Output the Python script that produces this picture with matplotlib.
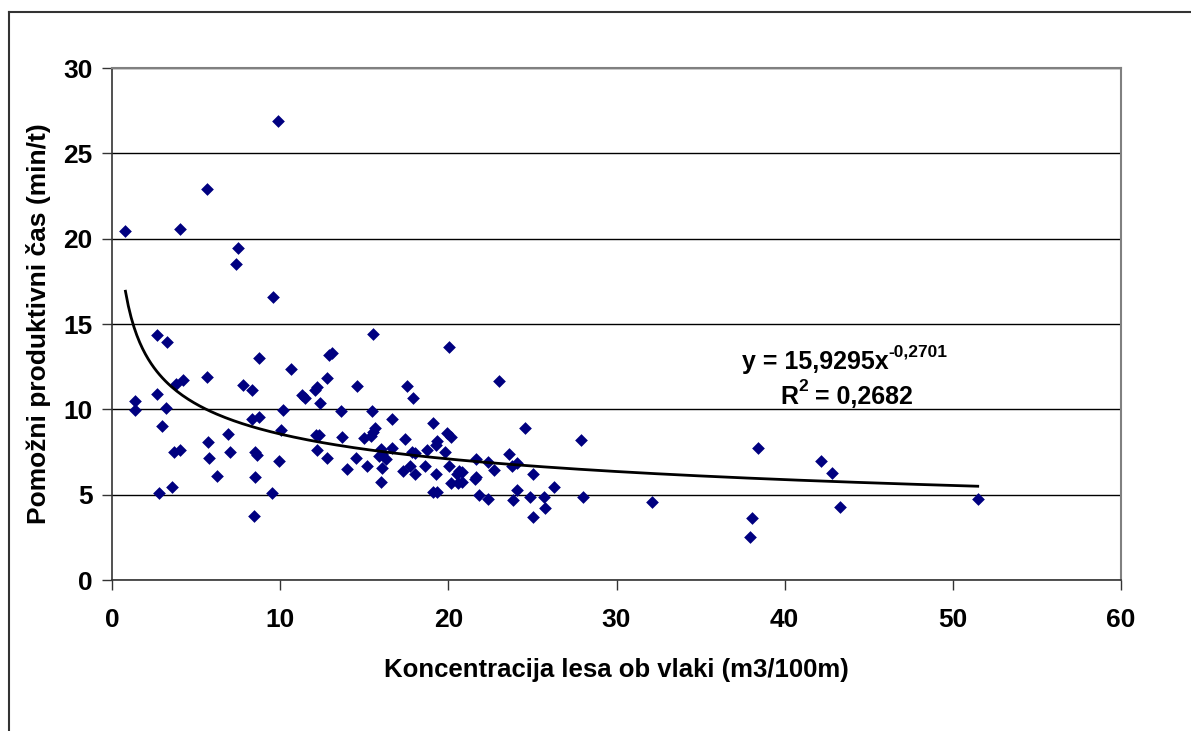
import numpy as np
import matplotlib
matplotlib.use('Agg')
import matplotlib.pyplot as plt
from matplotlib.lines import Line2D

plt.rcParams['font.family'] = ['Liberation Sans', 'DejaVu Sans']
plt.rcParams['font.weight'] = 'bold'

# Data
koncentracija = [
    0.80, 1.35, 1.35, 2.70, 3.27, 2.70, 3.19, 2.97, 2.79, 3.54,
    3.66, 4.06, 3.80, 4.24, 4.02, 5.64, 5.65, 5.71, 5.74, 6.22,
    6.92, 7.01, 7.37, 7.49, 7.77, 8.35, 8.32, 8.76, 8.74, 8.50,
    8.64, 8.52, 8.42, 9.51, 9.57, 9.89, 9.95, 10.06, 10.14, 10.62,
    11.27, 11.47, 12.07, 12.22, 12.34, 12.13, 12.33, 12.20, 12.76, 12.76,
    12.92, 13.11, 13.61, 13.69, 13.98, 14.51, 14.57, 15.00, 15.14, 15.40,
    15.53, 15.64, 15.44, 15.52, 15.87, 16.01, 16.08, 16.29, 16.05, 15.99,
    16.63, 16.67, 17.28, 17.44, 17.52, 17.72, 17.81, 17.99, 17.92, 18.03,
    18.61, 18.76, 19.06, 19.24, 19.34, 19.26, 19.06, 19.34, 19.83, 19.91,
    20.13, 20.04, 20.04, 20.15, 20.59, 20.54, 20.64, 20.79, 20.79, 21.58,
    21.67, 21.62, 21.85, 22.33, 22.71, 22.35, 23.01, 23.58, 23.76, 24.09,
    23.85, 24.06, 24.53, 24.83, 25.03, 25.03, 25.68, 25.72, 26.28, 27.90,
    28.00, 32.12, 38.08, 37.96, 38.44, 42.16, 42.84, 43.32, 51.48,
]
cas = [
    20.46, 10.49, 9.98, 14.35, 13.96, 10.92, 10.10, 9.04, 5.08, 5.43,
    7.50, 7.60, 11.46, 11.70, 20.58, 22.93, 11.87, 8.08, 7.17, 6.11,
    8.55, 7.50, 18.49, 19.43, 11.40, 11.13, 9.43, 9.53, 12.99, 7.52,
    7.32, 6.03, 3.75, 5.08, 16.60, 26.87, 6.95, 8.79, 9.98, 12.34,
    10.86, 10.64, 11.13, 11.29, 10.35, 8.49, 8.49, 7.62, 7.17, 11.85,
    13.18, 13.30, 9.90, 8.39, 6.48, 7.17, 11.39, 8.32, 6.69, 8.44,
    8.65, 8.89, 9.90, 14.43, 7.26, 7.67, 7.38, 7.07, 6.54, 5.72,
    7.75, 9.43, 6.39, 8.28, 11.39, 6.69, 7.52, 7.42, 10.64, 6.21,
    6.69, 7.62, 9.22, 7.91, 8.14, 6.21, 5.14, 5.14, 7.50, 8.63,
    8.39, 6.69, 13.67, 5.70, 5.70, 6.21, 6.38, 6.31, 5.77, 5.92,
    6.06, 7.07, 4.98, 6.91, 6.46, 4.77, 11.68, 7.36, 6.69, 6.87,
    4.69, 5.27, 8.93, 4.88, 6.21, 3.71, 4.88, 4.20, 5.45, 8.18,
    4.88, 4.59, 3.65, 2.50, 7.71, 6.97, 6.29, 4.30, 4.77,
]

# power trendline parameters (from the chart label)
a_coef = 15.9295
b_exp = -0.2701

fig = plt.figure(figsize=(11.91, 7.31), dpi=100)
ax = fig.add_axes([112 / 1191, 1 - 580 / 731, (1121 - 112) / 1191, (580 - 68) / 731])

ax.scatter(koncentracija, cas, marker='D', s=42, color='#000080', zorder=3, linewidths=0)

xt = np.linspace(min(koncentracija), max(koncentracija), 300)
ax.plot(xt, a_coef * xt ** b_exp, color='black', lw=2.0, zorder=4)

ax.set_xlim(0, 60)
ax.set_ylim(0, 30)
ax.set_xticks(range(0, 61, 10))
ax.set_yticks(range(0, 31, 5))
ax.yaxis.grid(True, color='black', lw=1.0)
ax.set_axisbelow(True)

ax.tick_params(axis='both', direction='out', length=7, width=1, labelsize=19, color='#333333')
ax.tick_params(axis='x', pad=13)
ax.tick_params(axis='y', pad=7)
for lbl in ax.get_xticklabels() + ax.get_yticklabels():
    lbl.set_fontweight('bold')

for side in ['top', 'right']:
    ax.spines[side].set_color('#808080')
    ax.spines[side].set_linewidth(1.5)
for side in ['left', 'bottom']:
    ax.spines[side].set_color('#333333')
    ax.spines[side].set_linewidth(1.2)

ax.set_xlabel('Koncentracija lesa ob vlaki (m3/100m)', fontsize=18.5, fontweight='bold', labelpad=19)
ax.set_ylabel('Pomožni produktivni čas (min/t)', fontsize=19, fontweight='bold', labelpad=9)

# trendline equation with separate superscripts
eq = ax.text(37.46, 12.77, 'y = 15,9295x', fontsize=18, fontweight='bold', ha='left', va='center')
ax.annotate('-0,2701', xy=(1, 0.62), xycoords=eq, fontsize=12.5, fontweight='bold',
            ha='left', va='bottom')
r = ax.text(39.75, 10.72, 'R', fontsize=18, fontweight='bold', ha='left', va='center')
sup = ax.annotate('2', xy=(1, 0.62), xycoords=r, fontsize=12.5, fontweight='bold',
                  ha='left', va='bottom')
ax.annotate(' = 0,2682', xy=(1, 0), xycoords=(sup, r), fontsize=18, fontweight='bold',
            ha='left', va='bottom')

# outer chart frame
fig.add_artist(Line2D([9 / 1191, 9 / 1191], [0, 1 - 12 / 731], color='#333333', lw=1.5))
fig.add_artist(Line2D([9 / 1191, 1], [1 - 12 / 731, 1 - 12 / 731], color='#333333', lw=1.5))

fig.savefig('out.png', dpi=100)
